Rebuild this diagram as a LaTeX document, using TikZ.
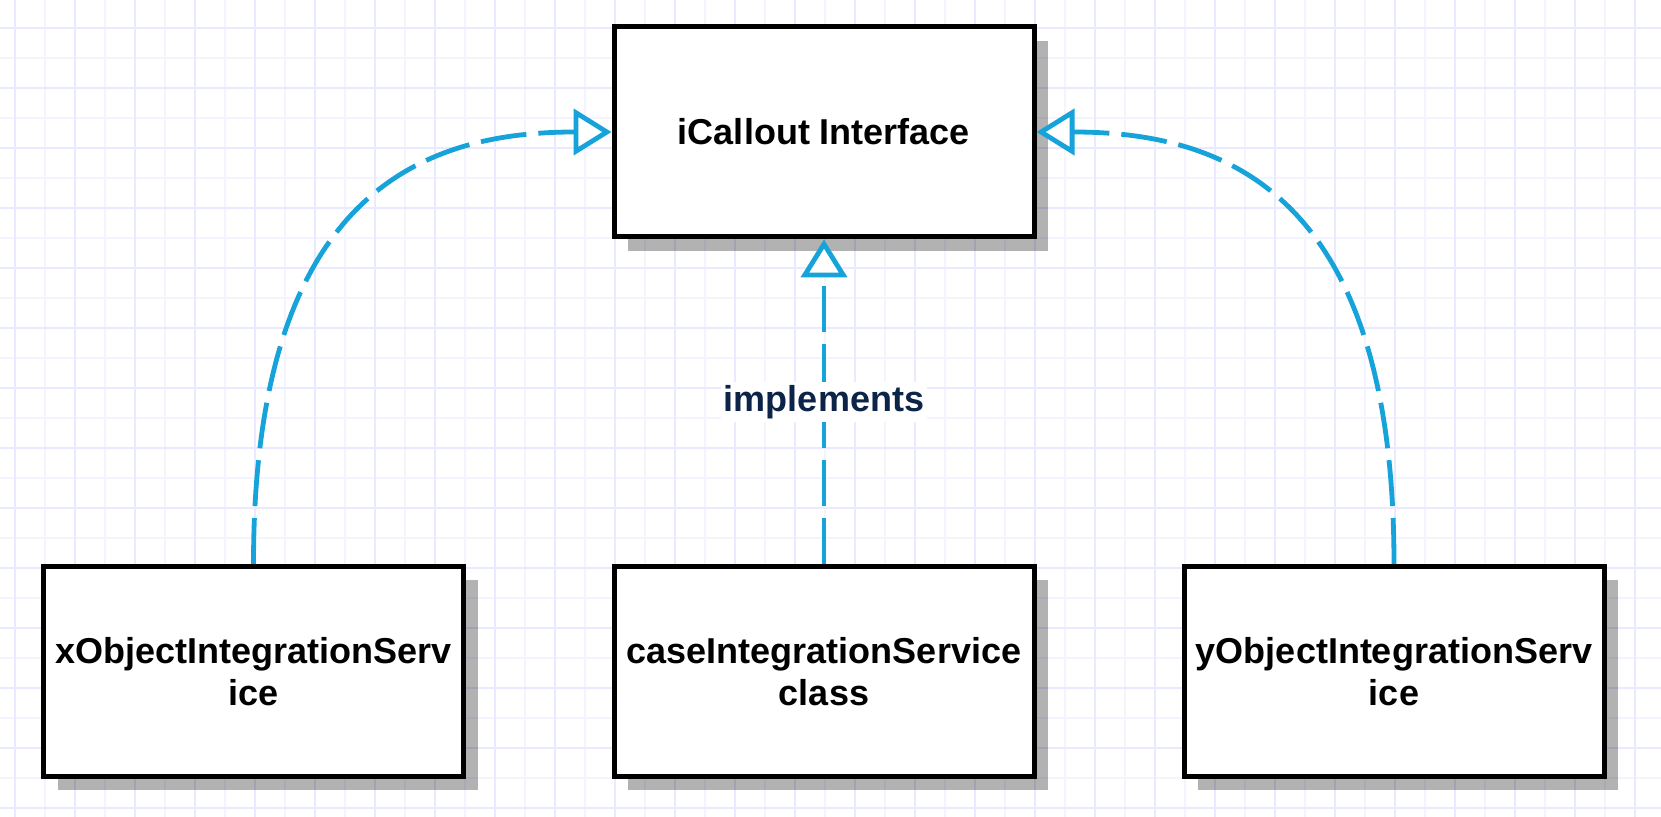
\documentclass[tikz,border=0pt]{standalone}
\usepackage{fontspec}
\setmainfont{Liberation Sans}
\usetikzlibrary{arrows.meta,shadows}
\definecolor{gridA}{RGB}{233,233,255}
\definecolor{gridB}{RGB}{244,244,255}
\definecolor{conn}{RGB}{22,163,218}
\definecolor{lbl}{RGB}{12,36,72}
\tikzset{
  box/.style={draw=black, line width=2.5pt, fill=white,
    minimum width=210pt, minimum height=105pt, inner sep=0pt, align=center,
    font=\bfseries\fontsize{18}{21}\selectfont,
    drop shadow={shadow xshift=7pt, shadow yshift=-7pt, fill=black, opacity=0.3}},
  impl/.style={draw=conn, line width=2.4pt, dash pattern=on 23pt off 6pt,
    -{Triangle[open, fill=white, length=19pt, width=23pt]}},
  lab/.style={fill=white, text=lbl, inner sep=1.5pt,
    font=\bfseries\fontsize{18}{21}\selectfont},
  gridline/.style={line width=1pt}
}
\begin{document}
\begin{tikzpicture}[x=0.5pt,y=-0.5pt]
\useasboundingbox (0,0) rectangle (1661,817);
\fill[white] (0,0) rectangle (1661,817);
\foreach \x in {45,105,...,1661} \draw[gridline,gridB] (\x,0) -- (\x,817);
\foreach \y in {58,118,...,817} \draw[gridline,gridB] (0,\y) -- (1661,\y);
\foreach \x in {15,75,...,1661} \draw[gridline,gridA] (\x,0) -- (\x,817);
\foreach \y in {28,88,...,817} \draw[gridline,gridA] (0,\y) -- (1661,\y);

\node[box] (top) at (824,132) {iCallout Interface};
\node[box] (xobj) at (253.5,671.5) {xObjectIntegrationServ\\ice};
\node[box] (mid) at (824,671.5) {caseIntegrationService\\class};
\node[box] (yobj) at (1394,671.5) {yObjectIntegrationServ\\ice};

\draw[impl] (xobj.north) .. controls +(0,-366) and +(-194,0) .. (top.west);
\draw[impl] (yobj.north) .. controls +(0,-366) and +(194,0) .. (top.east);
\draw[impl] (mid.north) -- (top.south) node[lab, midway] (lbl) {implements};
\end{tikzpicture}
\end{document}
